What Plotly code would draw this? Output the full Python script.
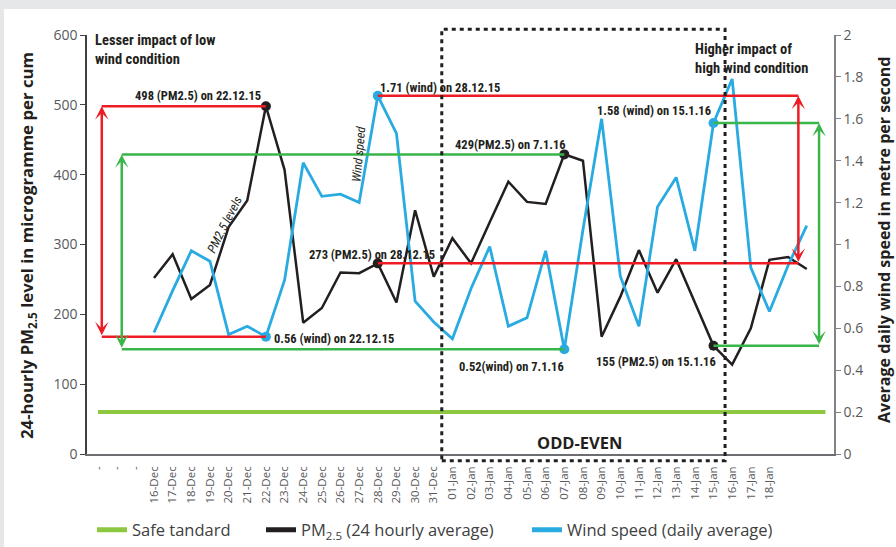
import plotly.graph_objects as go

# ---- data ----
tick_labels = ["-", "-", "-",
               "16-Dec", "17-Dec", "18-Dec", "19-Dec", "20-Dec", "21-Dec", "22-Dec", "23-Dec",
               "24-Dec", "25-Dec", "26-Dec", "27-Dec", "28-Dec", "29-Dec", "30-Dec", "31-Dec",
               "01-Jan", "02-Jan", "03-Jan", "04-Jan", "05-Jan", "06-Jan", "07-Jan", "08-Jan",
               "09-Jan", "10-Jan", "11-Jan", "12-Jan", "13-Jan", "14-Jan", "15-Jan", "16-Jan",
               "17-Jan", "18-Jan"]

dates = ["16-Dec", "17-Dec", "18-Dec", "19-Dec", "20-Dec", "21-Dec", "22-Dec", "23-Dec",
         "24-Dec", "25-Dec", "26-Dec", "27-Dec", "28-Dec", "29-Dec", "30-Dec", "31-Dec",
         "01-Jan", "02-Jan", "03-Jan", "04-Jan", "05-Jan", "06-Jan", "07-Jan", "08-Jan",
         "09-Jan", "10-Jan", "11-Jan", "12-Jan", "13-Jan", "14-Jan", "15-Jan", "16-Jan",
         "17-Jan", "18-Jan", "19-Jan", "20-Jan"]

pm25 = [252, 286, 222, 242, 325, 363, 498, 407,
        188, 209, 260, 259, 273, 217, 349, 254,
        309, 273, 332, 390, 361, 358, 429, 420,
        168, 225, 292, 231, 279, 217, 155, 128,
        180, 278, 282, 265]

wind = [0.58, 0.78, 0.97, 0.92, 0.57, 0.61, 0.56, 0.83,
        1.39, 1.23, 1.24, 1.20, 1.71, 1.53, 0.73, 0.63,
        0.55, 0.79, 0.99, 0.61, 0.65, 0.97, 0.50, 1.07,
        1.60, 0.85, 0.61, 1.18, 1.32, 0.97, 1.58, 1.79,
        0.89, 0.68, 0.90, 1.09]

safe_standard = 60
highlight_dates = ["22-Dec", "28-Dec", "07-Jan", "15-Jan"]

# ---- styling ----
RED = "#ED1C24"
GREEN = "#39B54A"
SAFE = "#8DC63F"
BLUE = "#29ABE2"
BLACK = "#231F20"
GREY = "#58595B"
NARROW = "Liberation Sans Narrow, Roboto Condensed, Roboto, sans-serif"
SANS = "Open Sans, Noto Sans, sans-serif"

W, H = 896, 547
L, R, T, B = 87, 834, 35, 454
WIND_SCALE = 300  # 2 m/s on right axis == 600 on left axis


def px(x):
    return (x - L) / (R - L)


def py(y):
    return (B - y) / (B - T)


offset = tick_labels.index("16-Dec")
xpos = {d: i + offset for i, d in enumerate(dates)}
x_all = [xpos[d] for d in dates]
hi_x = [xpos[d] for d in highlight_dates]
hi_pm = [pm25[dates.index(d)] for d in highlight_dates]
hi_wind = [wind[dates.index(d)] for d in highlight_dates]

fig = go.Figure()

fig.add_trace(go.Scatter(x=[0, len(tick_labels) + 2], y=[safe_standard] * 2, mode="lines",
                         line=dict(color=SAFE, width=4), showlegend=False))
fig.add_trace(go.Scatter(x=x_all, y=wind, yaxis="y2", mode="lines",
                         line=dict(color=BLUE, width=2.8), showlegend=False))
fig.add_trace(go.Scatter(x=x_all, y=pm25, mode="lines",
                         line=dict(color=BLACK, width=2.5), showlegend=False))
fig.add_trace(go.Scatter(x=hi_x, y=hi_wind, yaxis="y2", mode="markers",
                         marker=dict(color=BLUE, size=10), showlegend=False))
fig.add_trace(go.Scatter(x=hi_x, y=hi_pm, mode="markers",
                         marker=dict(color=BLACK, size=10), showlegend=False))

# legend-only entries (thicker swatches), one legend box each so they can be placed
legend_items = [("Safe tandard", SAFE, "legend", 97),
                ("PM<sub>2.5</sub> (24 hourly average)", BLACK, "legend2", 266),
                ("Wind speed (daily average)", BLUE, "legend3", 532)]
for name, col, leg, _ in legend_items:
    fig.add_trace(go.Scatter(x=[None], y=[None], mode="lines", name=name, legend=leg,
                             line=dict(color=col, width=5)))

shapes = [
    dict(type="rect", xref="paper", yref="paper", x0=px(4), x1=px(W + 5), y0=py(H + 5), y1=py(9),
         fillcolor="white", line=dict(width=0), layer="below"),
]
annotations = []


def bracket(vx, top, bottom, x_top, x_bottom, color):
    shapes.append(dict(type="line", xref="x", yref="y", x0=vx, x1=x_top, y0=top, y1=top,
                       line=dict(color=color, width=2.5)))
    shapes.append(dict(type="line", xref="x", yref="y", x0=vx, x1=x_bottom, y0=bottom, y1=bottom,
                       line=dict(color=color, width=2.5)))
    annotations.append(dict(x=vx, y=top, ax=vx, ay=bottom, xref="x", yref="y", axref="x", ayref="y",
                            text="", showarrow=True, arrowhead=3, arrowside="end+start",
                            arrowsize=0.9, arrowwidth=2.5, arrowcolor=color))


i22, i28, i07, i15 = (dates.index(d) for d in highlight_dates)
bracket(0.2, pm25[i22], wind[i22] * WIND_SCALE, xpos["22-Dec"], xpos["22-Dec"], RED)
bracket(1.27, pm25[i07], wind[i07] * WIND_SCALE, xpos["07-Jan"], xpos["07-Jan"], GREEN)
bracket(37.55, wind[i28] * WIND_SCALE, pm25[i28], xpos["28-Dec"], xpos["28-Dec"], RED)
bracket(38.66, wind[i15] * WIND_SCALE, pm25[i15], xpos["15-Jan"], xpos["15-Jan"], GREEN)

# odd-even period box
shapes.append(dict(type="rect", xref="x", yref="paper", x0=18.43, x1=33.62, y0=py(460.7), y1=py(29.3),
                   line=dict(color=BLACK, width=3, dash="4px,4px"), fillcolor="rgba(0,0,0,0)"))


def label(text, x, y, anchor="left", size=12.5, font=NARROW, **kw):
    annotations.append(dict(text=text, x=px(x), y=py(y), xref="paper", yref="paper",
                            xanchor=anchor, yanchor="middle", showarrow=False,
                            font=dict(family=font, size=size, color=BLACK), **kw))


label("<b>498 (PM2.5) on 22.12.15</b>", 263, 95, "right")
label("<b>0.56 (wind) on 22.12.15</b>", 272, 338)
label("<b>1.71 (wind) on 28.12.15</b>", 378, 87)
label("<b>273 (PM2.5) on 28.12.15</b>", 307, 254)
label("<b>429(PM2.5) on 7.1.16</b>", 453, 144)
label("<b>1.58 (wind) on 15.1.16</b>", 713, 110, "right")
label("<b>0.52(wind) on 7.1.16</b>", 457, 366)
label("<b>155 (PM2.5) on 15.1.16</b>", 718, 361, "right")
label("<b>Lesser impact of low<br>wind condition</b>", 93, 50, size=14.5, align="left")
label("<b>Higher impact of<br>high wind condition</b>", 693, 59, size=14.5, align="left")
label("<i>PM2.5 levels</i>", 224, 224, "center", size=12.5, textangle=-63)
label("<i>Wind speed</i>", 358, 154, "center", size=12.5, textangle=-85)
label("<b>ODD-EVEN</b>", 580, 442, "center", size=16.5, font=SANS)

# axis titles
label("<b>24-hourly PM<sub>2.5</sub> level in microgramme per cum</b>", 27, 246, "center",
      size=16.8, font=SANS, textangle=-90)
label("<b>Average daily wind speed in metre per second</b>", 884, 240, "center",
      size=16, font=SANS, textangle=-90)

legend_style = dict(orientation="h", xref="container", yref="container", xanchor="left",
                    yanchor="middle", y=1 - 530 / H, font=dict(size=16.5, color="#404041"),
                    bgcolor="rgba(0,0,0,0)", borderwidth=0)

fig.update_layout(
    width=W, height=H,
    margin=dict(l=L, r=W - R, t=T, b=H - B, autoexpand=False),
    paper_bgcolor="#E6E7E8",
    plot_bgcolor="rgba(0,0,0,0)",
    font=dict(family=SANS, color=GREY),
    showlegend=True,
    legend=dict(x=(legend_items[0][3] - 5) / W, **legend_style),
    legend2=dict(x=(legend_items[1][3] - 5) / W, **legend_style),
    legend3=dict(x=(legend_items[2][3] - 5) / W, **legend_style),
    xaxis=dict(range=[(L - 98.05) / 18.65, (R - 98.05) / 18.65], automargin=False,
               tickmode="array", tickvals=list(range(len(tick_labels))), ticktext=tick_labels,
               tickangle=-90, tickfont=dict(size=11.5, color=GREY), ticklabelstandoff=6,
               showgrid=False, zeroline=False, showline=True, linecolor="#6D6E71", linewidth=1.5),
    yaxis=dict(range=[0, 600], dtick=100, ticks="outside", ticklen=5, tickcolor="#414042",
               tickfont=dict(size=14, color=GREY), showgrid=False, zeroline=False, automargin=False,
               showline=True, linecolor="#414042", linewidth=1.5),
    yaxis2=dict(range=[0, 2], dtick=0.2, overlaying="y", side="right", ticks="outside",
                ticklen=5, tickcolor="#808285", tickfont=dict(size=14, color=GREY), automargin=False,
                showgrid=False, zeroline=False, showline=True, linecolor="#808285", linewidth=1.5),
    shapes=shapes,
    annotations=annotations,
)

fig.write_html("out.html", config={"displayModeBar": False},
               post_script="document.body.style.margin = '0px';")
